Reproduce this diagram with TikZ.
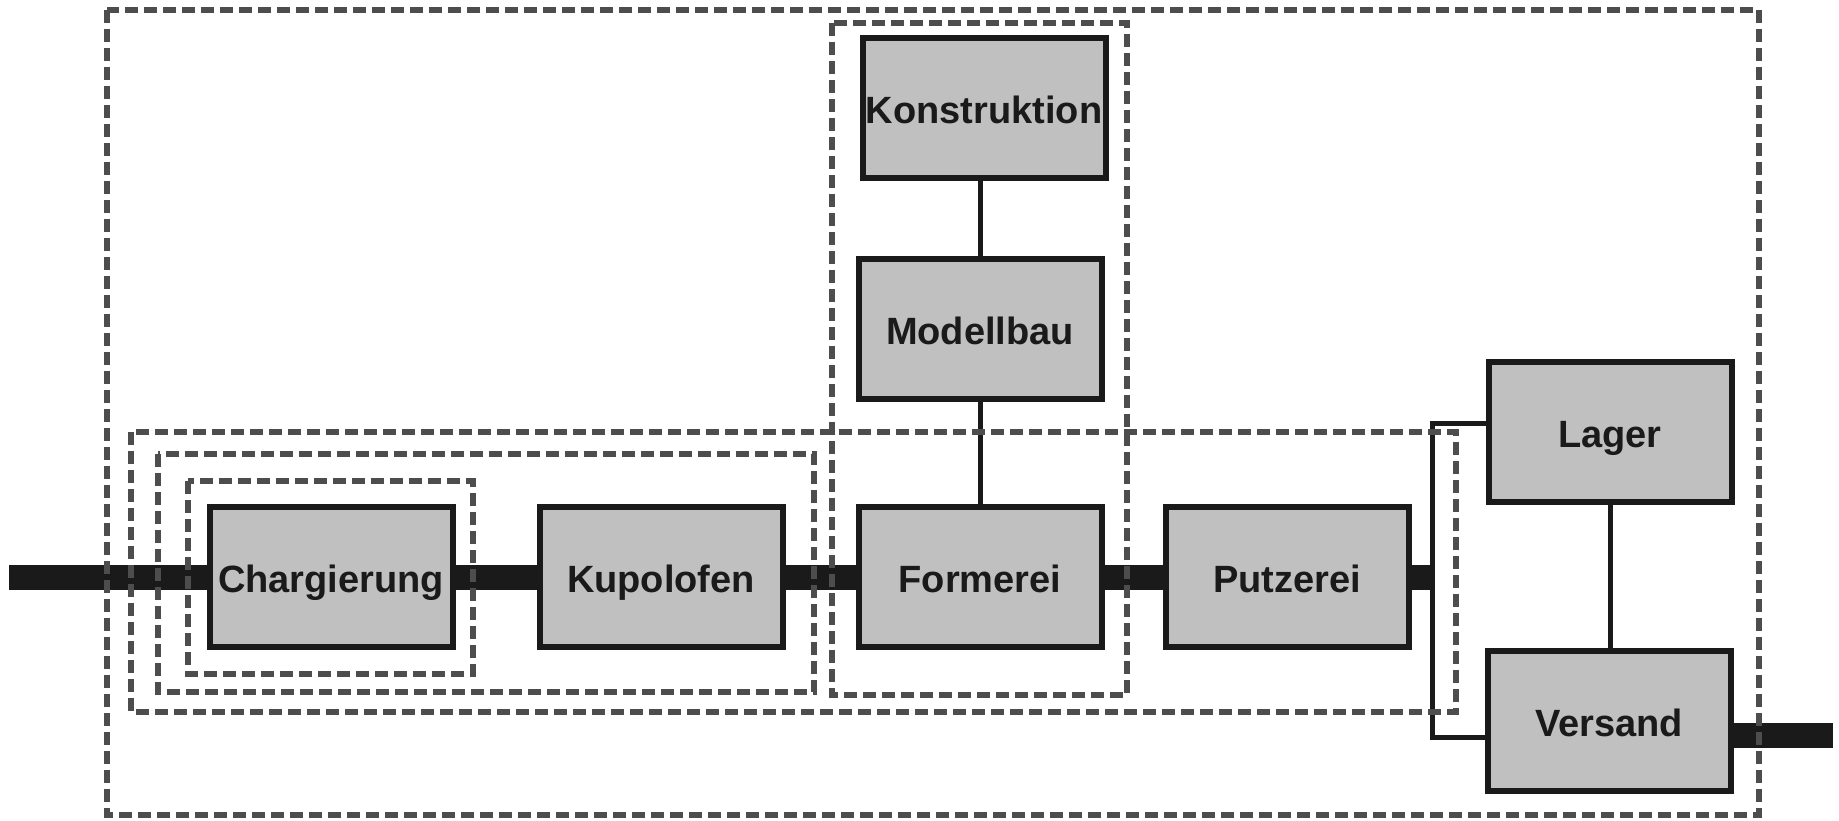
\documentclass[tikz,border=0pt]{standalone}
\usepackage{fontspec}
\setmainfont{Liberation Sans}
\definecolor{boxfill}{HTML}{C0C0C0}
\definecolor{ink}{HTML}{1A1A1A}
\definecolor{dashgray}{HTML}{4D4D4D}
\begin{document}
\begin{tikzpicture}[x=1pt,y=-1pt,
  unit/.style={draw=ink, fill=boxfill, line width=6pt, minimum width=243pt, minimum height=140pt,
    inner sep=0pt, text=ink, text height=30pt, text depth=0pt, font=\fontsize{38}{44}\selectfont\bfseries},
  flow/.style={draw=ink, line width=25pt},
  link/.style={draw=ink, line width=5pt},
  grp/.style={draw=dashgray, line width=6.5pt, dash pattern=on 13pt off 6pt}]
\useasboundingbox (0,0) rectangle (1839,820);
% nodes
\node[unit] (kon) at (984,108) {Konstruktion};
\node[unit] (mod) at (980,329) {Modellbau};
\node[unit] (cha) at (331,577) {Chargierung};
\node[unit] (kup) at (661,577) {Kupolofen};
\node[unit] (for) at (980,577) {Formerei};
\node[unit] (put) at (1287,577) {Putzerei};
\node[unit] (lag) at (1610,432) {Lager};
\node[unit] (ver) at (1609,721) {Versand};
% flow
\coordinate (in) at (9,577);
\coordinate (b1) at (1432,423);
\coordinate (b2) at (1432,737);
\coordinate (out) at (1833,735);
\draw[flow] (in) -- (cha.west);
\draw[flow] (cha.east) -- (kup.west);
\draw[flow] (kup.east) -- (for.west);
\draw[flow] (for.east) -- (put.west);
\draw[flow] (put.east) -- (put.east -| b1);
\draw[flow] (out -| ver.east) -- (out);
% links
\draw[link] (kon.south -| mod.north) -- (mod.north);
\draw[link] (mod.south) -- (for.north);
\draw[link] (lag.south) -- (lag.south |- ver.north);
\draw[link] (b1 -| lag.west) -- (b1) -- (b2) -- (b2 -| ver.west);
% groups
\draw[grp] (107,10) rectangle (1759,815);
\draw[grp] (832,23) rectangle (1127,695);
\draw[grp] (131,432) rectangle (1456,712);
\draw[grp] (158,454) rectangle (814,692);
\draw[grp] (188,481) rectangle (473,674);
\end{tikzpicture}
\end{document}
